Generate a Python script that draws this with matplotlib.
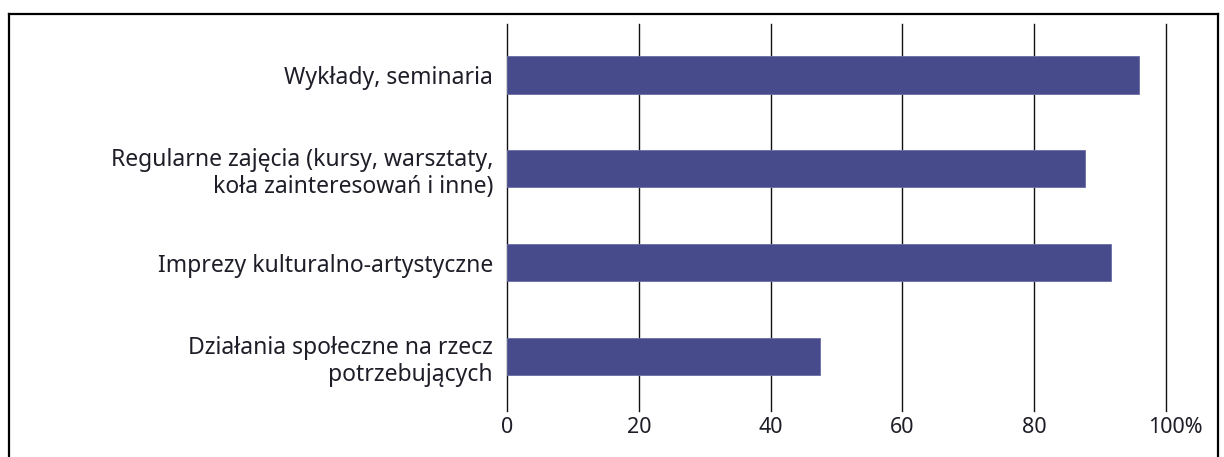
import matplotlib
matplotlib.use('Agg')
import matplotlib.pyplot as plt
import matplotlib.transforms as mtransforms
from matplotlib.lines import Line2D

# ----- DANE
kategorie = [
    "Wykłady, seminaria",
    "Regularne zajęcia (kursy, warsztaty,\nkoła zainteresowań i inne)",
    "Imprezy kulturalno-artystyczne",
    "Działania społeczne na rzecz\npotrzebujących",
]
wartosci = [95.9, 87.7, 91.7, 47.5]
ticks_x = [0, 20, 40, 60, 80, 100]
tick_labels = ["0", "20", "40", "60", "80", "100%"]

plt.rcParams['font.family'] = ['Noto Sans', 'DejaVu Sans']

fig = plt.figure(figsize=(12.24, 4.57), dpi=100)
W, H = 1224, 457
ax = fig.add_axes([507 / W, 1 - 411 / H, (1166 - 507) / W, (411 - 24) / H])

pos = list(range(len(kategorie)))
ax.barh(pos, wartosci, height=0.4, color='#484B8B', edgecolor='#6A6DA6',
        linewidth=0.6, zorder=3)

ax.set_xlim(0, 100)
ax.set_ylim(3.58, -0.54)
ax.set_xticks(ticks_x)
ax.set_xticklabels(tick_labels, fontsize=15.5, color='#1E1E28')
ax.set_yticks(pos)
ax.set_yticklabels(kategorie, fontsize=16.5, color='#1E1E28',
                   multialignment='right', linespacing=1.2)
ax.tick_params(axis='both', length=0)
ax.tick_params(axis='y', pad=10)
ax.tick_params(axis='x', pad=4)
ax.grid(axis='x', color='#111111', linewidth=1.0, zorder=0)
for gl in ax.get_xgridlines():
    gl.set_clip_on(False)
for s in ax.spines.values():
    s.set_visible(False)

# "100" pod linią, znak % wystaje w prawo
lbl = ax.get_xticklabels()[-1]
lbl.set_transform(lbl.get_transform() +
                  mtransforms.ScaledTranslation(9 / 100, 0, fig.dpi_scale_trans))

# ----- RAMKA
yt = 1 - 14 / H
fig.add_artist(Line2D([9 / W, 1218 / W], [yt, yt], color='black', lw=1.6))
fig.add_artist(Line2D([9 / W, 9 / W], [0, yt], color='black', lw=1.6))
fig.add_artist(Line2D([1218 / W, 1218 / W], [0, yt], color='black', lw=1.6))

fig.savefig("out.png", dpi=100)
